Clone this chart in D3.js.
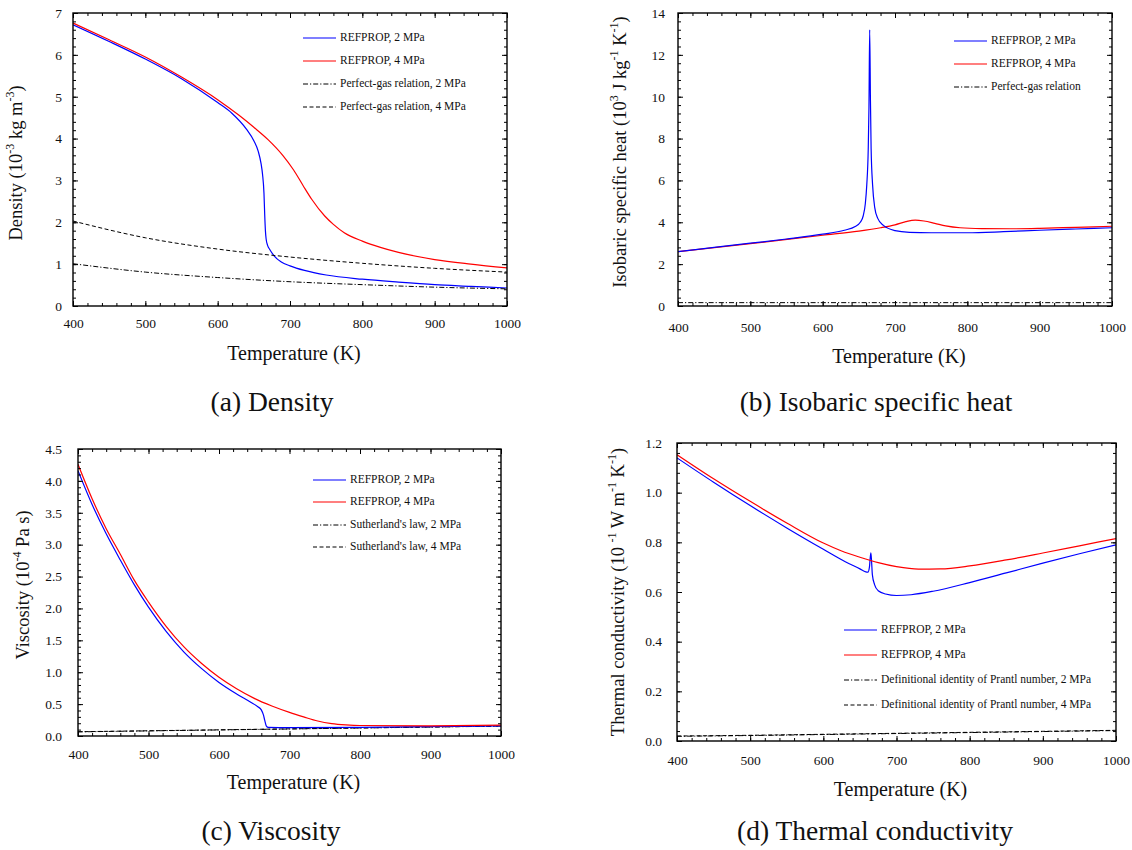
<!DOCTYPE html>
<html>
<head>
<meta charset="utf-8">
<script src="https://cdn.jsdelivr.net/npm/d3@7"></script>
<style>
body{margin:0;background:#fff;}
text{font-family:"Liberation Serif","Times New Roman",serif;fill:#111;}
</style>
</head>
<body>
<svg id="chart" width="1132" height="850"></svg>
<script>
// values, [temperature K, value]
const density2=[[400,6.72],[450,6.32],[500,5.9],[550,5.43],[600,4.86],[620,4.6],[640,4.22],[650,3.95],[656,3.7],[660,3.4],[662,3.15],[664,2.7],[665,2.2],[666,1.8],[667,1.6],[669,1.45],[672,1.35],[678,1.2],[688,1.05],[700,0.96],[720,0.85],[750,0.74],[800,0.64],[850,0.57],[900,0.51],[950,0.47],[1000,0.43]];
const density4=[[400,6.76],[450,6.36],[500,5.95],[550,5.47],[600,4.93],[630,4.55],[650,4.27],[670,3.97],[690,3.6],[705,3.25],[718,2.88],[730,2.55],[748,2.15],[760,1.95],[775,1.75],[800,1.55],[825,1.4],[850,1.28],[900,1.11],[950,1.0],[1000,0.91]];
const gasDensity2=[[400,1.01],[500,0.81],[600,0.68],[700,0.58],[800,0.51],[900,0.45],[1000,0.41]];
const gasDensity4=[[400,2.03],[500,1.63],[600,1.36],[700,1.17],[800,1.02],[900,0.9],[1000,0.81]];

const cp2=[[400,2.6],[450,2.8],[500,3.0],[550,3.2],[600,3.43],[630,3.62],[645,3.8],[652,4.0],[656,4.3],[659,4.9],[661,5.8],[663,7.5],[664,9.5],[665,13.2],[666,10],[667,7.5],[669,5.8],[672,4.7],[676,4.2],[684,3.85],[700,3.6],[720,3.52],[750,3.5],[800,3.5],[850,3.55],[900,3.62],[950,3.68],[1000,3.74]];
const cp4=[[400,2.6],[500,2.98],[600,3.38],[650,3.58],[680,3.74],[700,3.88],[715,4.03],[728,4.1],[740,4.06],[755,3.95],[770,3.83],[790,3.74],[820,3.7],[860,3.69],[900,3.71],[950,3.76],[1000,3.81]];
const gasCp=[[400,0.16],[1000,0.16]];

const visc2=[[400,4.16],[420,3.63],[440,3.17],[460,2.76],[480,2.37],[500,2.02],[525,1.64],[550,1.32],[575,1.06],[600,0.84],[625,0.66],[645,0.53],[655,0.46],[660,0.41],[663,0.33],[665,0.24],[667,0.16],[670,0.135],[700,0.13],[800,0.135],[900,0.148],[1000,0.16]];
const visc4=[[400,4.26],[420,3.72],[440,3.25],[460,2.85],[480,2.44],[500,2.1],[525,1.72],[550,1.4],[575,1.14],[600,0.92],[625,0.74],[650,0.59],[675,0.47],[700,0.37],[720,0.3],[740,0.235],[760,0.195],[780,0.175],[800,0.165],[900,0.16],[1000,0.17]];
const sutherland2=[[400,0.065],[500,0.08],[600,0.095],[700,0.11],[800,0.125],[900,0.14],[1000,0.155]];
const sutherland4=[[400,0.067],[500,0.082],[600,0.097],[700,0.112],[800,0.127],[900,0.142],[1000,0.157]];

const cond2=[[400,1.14],[450,1.042],[500,0.948],[550,0.858],[600,0.772],[630,0.722],[650,0.693],[658,0.681],[661,0.68],[663,0.7],[664,0.735],[665,0.758],[666,0.72],[667,0.67],[670,0.63],[675,0.605],[685,0.592],[700,0.586],[720,0.589],[750,0.603],[800,0.638],[850,0.677],[900,0.716],[950,0.754],[1000,0.79]];
const cond4=[[400,1.153],[450,1.056],[500,0.965],[550,0.878],[600,0.797],[625,0.765],[650,0.74],[675,0.718],[700,0.702],[730,0.692],[760,0.693],[800,0.705],[850,0.729],[900,0.757],[950,0.786],[1000,0.815]];
const prandtl2=[[400,0.019],[500,0.022],[600,0.026],[700,0.03],[800,0.034],[900,0.038],[1000,0.042]];
const prandtl4=[[400,0.02],[500,0.023],[600,0.027],[700,0.031],[800,0.035],[900,0.039],[1000,0.043]];

const xTicks=[400,500,600,700,800,900,1000];
const legendA=["REFPROP, 2 MPa","REFPROP, 4 MPa","Perfect-gas relation, 2 MPa","Perfect-gas relation, 4 MPa"];
const legendB=["REFPROP, 2 MPa","REFPROP, 4 MPa","Perfect-gas relation"];
const legendC=["REFPROP, 2 MPa","REFPROP, 4 MPa","Sutherland's law, 2 MPa","Sutherland's law, 4 MPa"];
const legendD=["REFPROP, 2 MPa","REFPROP, 4 MPa","Definitional identity of Prantl number, 2 MPa","Definitional identity of Prantl number, 4 MPa"];

const SERIF="'Liberation Serif','Times New Roman',serif";
const BLUE="#0000ff",RED="#ff0000",DASHDOT="5,2,1.2,2",DASH="4,2.5";
const svg=d3.select("#chart");

const panels=[
  {id:"a",left:73,right:507,top:13,bottom:306,ymax:7,ystep:1,yminor:0.2,fmt:d3.format("d"),xpad:12,ypad:11,
   ylabel:["Density (10","-3"," kg m","-3",")"],ylx:18,ylcy:163,
   xlabelY:360,caption:"(a) Density",capX:272,capY:411,
   series:[{d:density2,c:BLUE},{d:density4,c:RED},{d:gasDensity2,c:"#000",dash:DASHDOT},{d:gasDensity4,c:"#000",dash:DASH}],
   legend:legendA,legX:303,legY:[38,61,84,107]},
  {id:"b",left:678,right:1112,top:13,bottom:306,ymax:14,ystep:2,yminor:0.4,fmt:d3.format("d"),xpad:16,ypad:13,
   ylabel:["Isobaric specific heat (10","3"," J kg","-1"," K","-1",")"],ylx:622,ylcy:152,
   xlabelY:363,caption:"(b) Isobaric specific heat",capX:876,capY:411,
   series:[{d:gasCp,c:"#000",dash:DASHDOT},{d:cp4,c:RED},{d:cp2,c:BLUE}],
   legend:legendB,legX:954,legY:[41,64,87]},
  {id:"c",left:78,right:501,top:449,bottom:736,ymax:4.5,ystep:0.5,yminor:0.1,fmt:d3.format(".1f"),xpad:13,ypad:16,
   ylabel:["Viscosity (10","-4"," Pa s)"],ylx:25,ylcy:585,
   xlabelY:789,caption:"(c) Viscosity",capX:271,capY:840,
   series:[{d:sutherland2,c:"#000",dash:DASHDOT},{d:sutherland4,c:"#000",dash:DASH},{d:visc2,c:BLUE},{d:visc4,c:RED}],
   legend:legendC,legX:313,legY:[480,502,525,547]},
  {id:"d",left:677,right:1116,top:443,bottom:741,ymax:1.2,ystep:0.2,yminor:0.04,fmt:d3.format(".1f"),xpad:14,ypad:15,
   ylabel:["Thermal conductivity (10 ","-1"," W m","-1"," K","-1",")"],ylx:620,ylcy:592,
   xlabelY:796,caption:"(d) Thermal conductivity",capX:875,capY:840,
   series:[{d:cond2,c:BLUE},{d:cond4,c:RED},{d:prandtl2,c:"#000",dash:DASHDOT},{d:prandtl4,c:"#000",dash:DASH}],
   legend:legendD,legX:844,legY:[630,655,680,705]}
];

panels.forEach(drawpanel);

function drawpanel(p){
  const g=svg.append("g");
  const x=d3.scaleLinear().domain([400,1000]).range([p.left,p.right]);
  const y=d3.scaleLinear().domain([0,p.ymax]).range([p.bottom,p.top]);
  const yTicks=d3.range(0,p.ymax+1e-9,p.ystep);
  const yMinor=d3.range(0,p.ymax+1e-9,p.yminor);
  const xMinor=d3.range(400,1001,20);

  svg.append("clipPath").attr("id","clip-"+p.id)
    .append("rect").attr("x",p.left).attr("y",p.top)
    .attr("width",p.right-p.left).attr("height",p.bottom-p.top);

  const line=d3.line().x(d=>x(d[0])).y(d=>y(d[1])).curve(d3.curveMonotoneX);
  p.series.forEach(s=>{
    g.append("path").datum(s.d)
      .attr("clip-path",`url(#clip-${p.id})`)
      .attr("fill","none").attr("stroke",s.c)
      .attr("stroke-width",s.dash?1:1.2)
      .attr("stroke-dasharray",s.dash||null)
      .attr("d",line);
  });

  // inward ticks on all four sides
  const addAxis=(axis,tx,ty,labels)=>{
    const a=g.append("g").attr("transform",`translate(${tx},${ty})`).call(axis);
    a.select(".domain").remove();
    a.selectAll("line").attr("stroke","#000");
    if(labels){
      a.selectAll("text").attr("font-size",13.5).style("font-family",SERIF).attr("fill","#111");
    }
    return a;
  };
  addAxis(d3.axisBottom(x).tickValues(xTicks).tickSize(-5).tickPadding(p.xpad).tickFormat(d3.format("d")),0,p.bottom,true);
  addAxis(d3.axisBottom(x).tickValues(xMinor).tickSize(-3).tickFormat(""),0,p.bottom);
  addAxis(d3.axisTop(x).tickValues(xTicks).tickSize(-5).tickFormat(""),0,p.top);
  addAxis(d3.axisTop(x).tickValues(xMinor).tickSize(-3).tickFormat(""),0,p.top);
  addAxis(d3.axisLeft(y).tickValues(yTicks).tickSize(-5).tickPadding(p.ypad).tickFormat(p.fmt),p.left,0,true);
  addAxis(d3.axisLeft(y).tickValues(yMinor).tickSize(-3).tickFormat(""),p.left,0);
  addAxis(d3.axisRight(y).tickValues(yTicks).tickSize(-5).tickFormat(""),p.right,0);
  addAxis(d3.axisRight(y).tickValues(yMinor).tickSize(-3).tickFormat(""),p.right,0);

  g.append("rect").attr("x",p.left).attr("y",p.top)
    .attr("width",p.right-p.left).attr("height",p.bottom-p.top)
    .attr("fill","none").attr("stroke","#000").attr("stroke-width",1.4);

  // y label with superscripts
  const yl=g.append("text")
    .attr("transform",`translate(${p.ylx},${p.ylcy}) rotate(-90)`)
    .attr("text-anchor","middle").attr("dominant-baseline","middle")
    .attr("font-size",18.5);
  p.ylabel.forEach((t,i)=>{
    const ts=yl.append("tspan").text(t);
    if(i%2===1) ts.attr("font-size",12).attr("baseline-shift","super");
  });

  g.append("text").attr("x",(p.left+p.right)/2+4).attr("y",p.xlabelY)
    .attr("text-anchor","middle").attr("font-size",20).text("Temperature (K)");
  g.append("text").attr("x",p.capX).attr("y",p.capY)
    .attr("text-anchor","middle").attr("font-size",27.5).text(p.caption);

  // legend
  const styles=[{c:BLUE},{c:RED},{c:"#000",dash:DASHDOT},{c:"#000",dash:DASH}];
  const lg=g.append("g");
  p.legend.forEach((t,i)=>{
    const st=styles[i];
    lg.append("line").attr("x1",p.legX).attr("x2",p.legX+33)
      .attr("y1",p.legY[i]).attr("y2",p.legY[i])
      .attr("stroke",st.c).attr("stroke-width",st.dash?1:1.2)
      .attr("stroke-dasharray",st.dash||null);
    lg.append("text").attr("x",p.legX+37).attr("y",p.legY[i])
      .attr("dominant-baseline","middle").attr("font-size",11.5).text(t);
  });
}
</script>
</body>
</html>
